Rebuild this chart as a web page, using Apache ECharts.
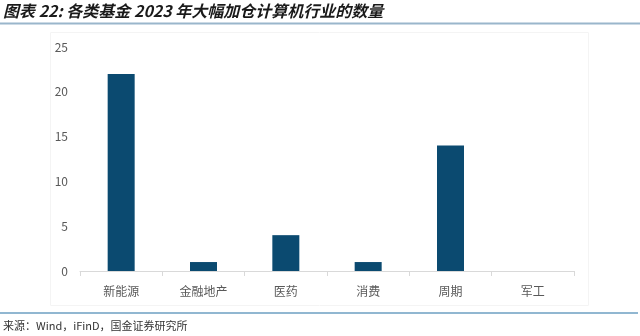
<!DOCTYPE html>
<html>
<head>
<meta charset="utf-8">
<script src="https://cdn.jsdelivr.net/npm/echarts@6/dist/echarts.min.js"></script>
<style>
  html, body { margin: 0; padding: 0; background: #fff; }
  #chart { width: 640px; height: 336px; }
</style>
</head>
<body>
<div id="chart"></div>
<script>
// 各类基金 2023 年大幅加仓计算机行业的数量
const categories = ['新能源', '金融地产', '医药', '消费', '周期', '军工']
const fundCounts = [22, 1, 4, 1, 14, 0]
const yTicks = { min: 0, max: 25, interval: 5 }

const titleText = '图表 22: 各类基金 2023 年大幅加仓计算机行业的数量'
const sourceText = '来源：Wind，iFinD，国金证券研究所'

const chart = echarts.init(document.getElementById('chart'))

chart.setOption({
  animation: false,
  textStyle: { fontFamily: '"Noto Sans CJK SC", sans-serif' },
  grid: { left: 80, right: 66, top: 47, bottom: 65 },
  xAxis: {
    type: 'category',
    data: categories,
    axisLine: { lineStyle: { color: '#d9d9d9' } },
    axisTick: { show: true, alignWithLabel: false, lineStyle: { color: '#d9d9d9' } },
    axisLabel: { color: '#595959', fontSize: 12, margin: 14 }
  },
  yAxis: {
    type: 'value',
    min: yTicks.min,
    max: yTicks.max,
    interval: yTicks.interval,
    axisLine: { show: false },
    axisTick: { show: false },
    splitLine: { show: false },
    axisLabel: { color: '#595959', fontSize: 12, margin: 12 }
  },
  series: [
    {
      type: 'bar',
      data: fundCounts,
      barWidth: 27,
      itemStyle: { color: '#0b4a70' }
    }
  ],
  graphic: [
    {
      type: 'text',
      left: 3,
      top: 3,
      style: {
        text: titleText,
        fill: '#1a1a1a',
        font: 'italic bold 16px "Noto Sans CJK SC", sans-serif'
      }
    },
    {
      type: 'line',
      shape: { x1: 0, y1: 23.5, x2: 640, y2: 23.5 },
      style: { stroke: '#9ab6cb', lineWidth: 2 }
    },
    {
      type: 'rect',
      shape: { x: 50.5, y: 32.5, width: 538, height: 273 },
      style: { fill: 'none', stroke: '#f4f4f4', lineWidth: 1 }
    },
    {
      type: 'line',
      shape: { x1: 0, y1: 313, x2: 638, y2: 313 },
      style: { stroke: '#6d9fc2', lineWidth: 1.5 }
    },
    {
      type: 'text',
      left: 3,
      top: 320,
      style: {
        text: sourceText,
        fill: '#333',
        font: '11px "Noto Sans CJK SC", sans-serif'
      }
    }
  ]
})
</script>
</body>
</html>
